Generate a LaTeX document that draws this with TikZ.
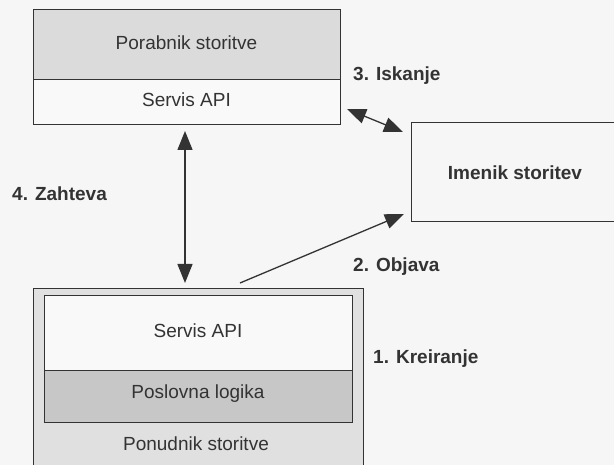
\documentclass[tikz,border=0pt]{standalone}
\usepackage{fontspec}
\setmainfont{Liberation Sans}
\usetikzlibrary{arrows.meta}
\definecolor{paper}{gray}{0.965}
\definecolor{layerlight}{gray}{0.86}
\definecolor{layerdark}{gray}{0.78}
\definecolor{framegray}{gray}{0.88}
\definecolor{apiwhite}{gray}{0.975}
\definecolor{ink}{gray}{0.2}
\tikzset{bigtri/.tip={Triangle[length=19pt,width=15pt]}}
\begin{document}
\begin{tikzpicture}[x=1pt,y=-1pt,
  box/.style={draw=ink, line width=1pt, inner sep=0pt, rectangle},
  lbl/.style={font=\fontsize{19}{23}\selectfont, inner sep=0pt, text=ink, anchor=base},
  steplbl/.style={font=\fontsize{19}{23}\selectfont\bfseries, inner sep=0pt, anchor=base west, text=ink},
  link/.style={line width=1.3pt, draw=ink},
]
\useasboundingbox (0,0) rectangle (614,465);
\clip (0,0) rectangle (614,465);
\fill[paper] (0,0) rectangle (614,465);

% service consumer: two stacked layers
\node[box, fill=layerlight, minimum width=307pt, minimum height=70pt] (cons) at (186.5,45) {};
\node[box, fill=apiwhite, minimum width=307pt, minimum height=45pt] (consapi) at (186.5,102.5) {};
\node[lbl] (consT) at (186.5,50) {Porabnik storitve};
\node[lbl] (consapiT) at (186.5,107) {Servis API};

% service registry (runs off the right edge)
\node[box, fill=paper, minimum width=214pt, minimum height=99pt] (reg) at (518,172.5) {};
\node[lbl, font=\fontsize{19}{23}\selectfont\bfseries] (regT) at (515,180) {Imenik storitev};

% service provider: outer frame with inner layers
\node[box, fill=framegray, minimum width=330pt, minimum height=200pt] (prov) at (198,389) {};
\node[box, fill=apiwhite, minimum width=308pt, minimum height=75pt] (provapi) at (198,333.5) {};
\node[box, fill=layerdark, minimum width=308pt, minimum height=52pt] (logic) at (198,397) {};
\node[lbl] (provapiT) at (198,338) {Servis API};
\node[lbl] (logicT) at (198,399) {Poslovna logika};
\node[lbl] (provT) at (196,450) {Ponudnik storitve};

% connector end points
\coordinate (findA) at (347,109);
\coordinate (findB) at (403,132);
\coordinate (reqA) at (185,131);
\coordinate (reqB) at (185,283);
\coordinate (pubA) at (240,283);
\coordinate (pubB) at (404,214);

\draw[link, bigtri-bigtri] (findA) -- (findB);
\draw[link, bigtri-bigtri] (reqA) -- (reqB);
\draw[link, -bigtri] (pubA) -- (pubB);

% step labels
\node[steplbl] (s3) at (353,81) {3. Iskanje};
\node[steplbl] (s4) at (12,201) {4. Zahteva};
\node[steplbl] (s2) at (353,272) {2. Objava};
\node[steplbl] (s1) at (373,364) {1. Kreiranje};
\end{tikzpicture}
\end{document}
